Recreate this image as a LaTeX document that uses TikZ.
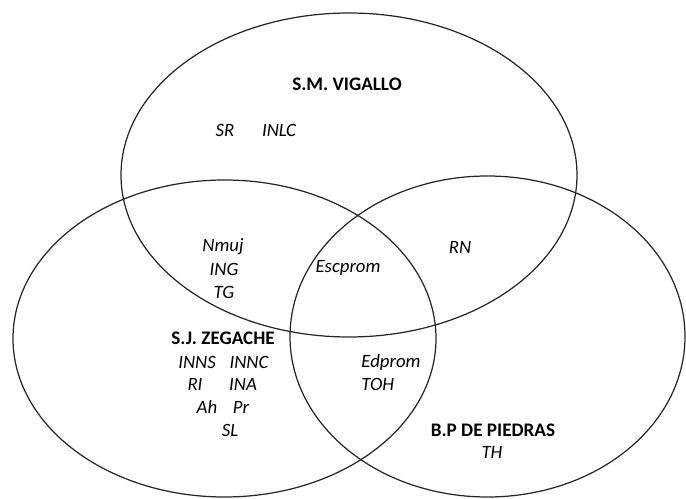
\documentclass[tikz,border=0pt]{standalone}
\usepackage{fontspec}
\setmainfont{Carlito}
\usepackage{tikz}
\usetikzlibrary{positioning}

\begin{document}
\begin{tikzpicture}[
        x=0.02cm, y=-0.02cm,
        setline/.style={draw=black!85, line width=0.7pt},
        title/.style={font=\fontsize{10.9}{13}\selectfont\bfseries, inner sep=1pt},
        item/.style={font=\fontsize{10.7}{13}\selectfont\itshape, inner sep=1pt}
    ]
        \useasboundingbox (0,0) rectangle (686,499);

        % Sets
        \draw[setline] (349,175) ellipse [x radius=228, y radius=162];
        \draw[setline] (224.5,338.5) ellipse [x radius=211.5, y radius=158.5];
        \draw[setline] (487.5,336.5) ellipse [x radius=197.5, y radius=160.5];

        % S.M. Vigallo
        \node[title] (vig) at (347,84) {S.M. VIGALLO};
        \node[item] (sr) at (225,130) {SR};
        \node[item] (inlc) at (279,130) {INLC};

        % Vigallo and Zegache
        \node[item] (nmuj) at (223,247) {Nmuj};
        \node[item] (ing) at (224,269) {ING};
        \node[item] (tg) at (224,292) {TG};

        % All three
        \node[item] (esc) at (348,268) {Escprom};

        % Vigallo and Piedras
        \node[item] (rn) at (460,247) {RN};

        % S.J. Zegache
        \node[title] (zeg) at (223,338) {S.J. ZEGACHE};
        \node[item] (inns) at (197,362) {INNS};
        \node[item] (innc) at (249,362) {INNC};
        \node[item] (ri) at (195,384) {RI};
        \node[item] (ina) at (243,384) {INA};
        \node[item] (ah) at (207,407) {Ah};
        \node[item] (pr) at (241,407) {Pr};
        \node[item] (sl) at (230,430) {SL};

        % Zegache and Piedras
        \node[item] (edp) at (391,362) {Edprom};
        \node[item, anchor=west] (toh) at (edp.west |- 0,384) {TOH};

        % B.P de Piedras
        \node[title] (pie) at (493,430) {B.P DE PIEDRAS};
        \node[item] (th) at (492,452) {TH};

    \end{tikzpicture}
\end{document}
